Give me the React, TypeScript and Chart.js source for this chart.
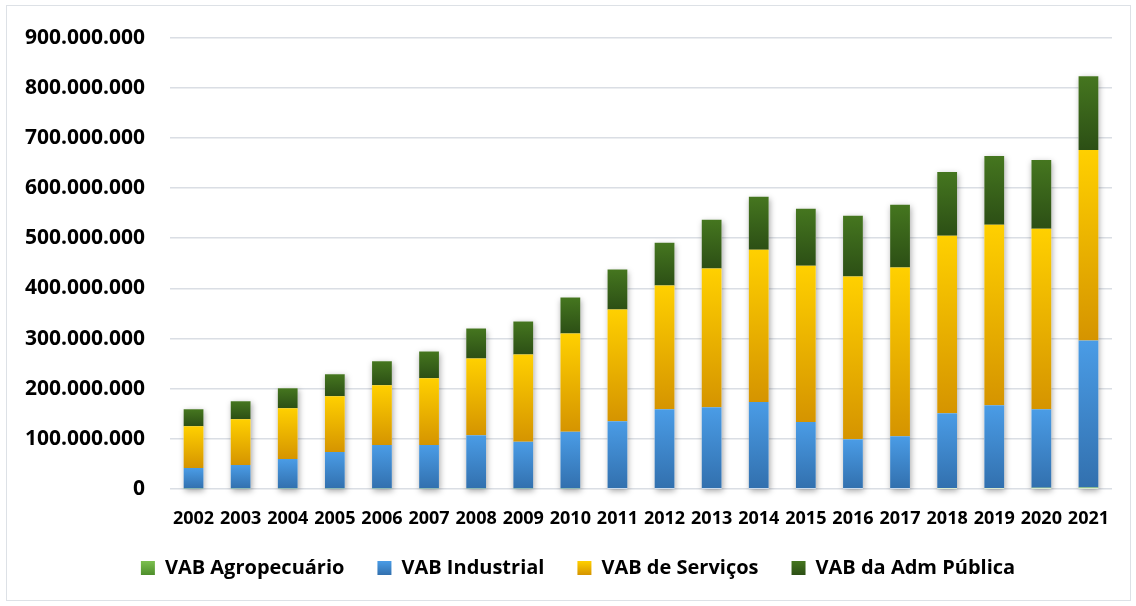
import React, { useEffect, useRef } from 'react';
import { Chart, registerables } from 'chart.js';

Chart.register(...registerables);

const years = ['2002', '2003', '2004', '2005', '2006', '2007', '2008', '2009', '2010', '2011', '2012', '2013', '2014', '2015', '2016', '2017', '2018', '2019', '2020', '2021'];

const vabAgropecuario = [900000, 1000000, 1100000, 1000000, 1000000, 1100000, 1200000, 1100000, 1200000, 1300000, 1300000, 1400000, 1500000, 1400000, 1500000, 1600000, 1800000, 1900000, 2600000, 2800000];
const vabIndustrial = [40800000, 46700000, 58500000, 72600000, 86500000, 86400000, 106200000, 92900000, 112800000, 133900000, 157700000, 161600000, 172100000, 132400000, 97900000, 103800000, 149200000, 165100000, 156400000, 293400000];
const vabServicos = [83300000, 91300000, 101400000, 111400000, 119300000, 133200000, 153000000, 174400000, 196000000, 222700000, 246600000, 276400000, 303400000, 311500000, 324100000, 336000000, 354000000, 359800000, 359900000, 379800000];
const vabAdmPublica = [34000000, 36000000, 40000000, 43600000, 47700000, 53300000, 59600000, 65600000, 71700000, 79500000, 85400000, 97400000, 105500000, 113300000, 121200000, 125200000, 127200000, 137200000, 137100000, 147000000];

const seriesNames = ['VAB Agropecuário', 'VAB Industrial', 'VAB de Serviços', 'VAB da Adm Pública'];
const seriesValues = [vabAgropecuario, vabIndustrial, vabServicos, vabAdmPublica];

const yMin = 0;
const yMax = 900000000;
const yStep = 100000000;

const palettes = [
  { top: '#7CC04F', bottom: '#4E8E2B', solid: '#5FA836' },
  { top: '#4A9CE6', bottom: '#3270AE', solid: '#3F86CC' },
  { top: '#FFD000', bottom: '#D59400', solid: '#EBB300' },
  { top: '#45761F', bottom: '#2C4F15', solid: '#386221' },
];

const FONT = '"Open Sans", "Liberation Sans", Arial, sans-serif';

const fmt = (v: number) => String(Math.round(v)).replace(/\B(?=(\d{3})+(?!\d))/g, '.');

const LEGEND_PAD = 33;
const BOX = 14;
const LEGEND_FONT = 20;

export default function App() {
  const canvasRef = useRef<HTMLCanvasElement | null>(null);

  useEffect(() => {
    const canvas = canvasRef.current;
    if (!canvas) return;

    const shadowPlugin = {
      id: 'stackShadow',
      beforeDatasetsDraw(chart: any) {
        const ctx = chart.ctx;
        const top = chart.getDatasetMeta(seriesValues.length - 1);
        const y = chart.scales.y;
        const base = y.getPixelForValue(0);
        ctx.save();
        ctx.shadowColor = 'rgba(0,0,0,0.35)';
        ctx.shadowBlur = 6;
        ctx.shadowOffsetX = 1;
        ctx.shadowOffsetY = 2;
        ctx.fillStyle = '#ffffff';
        top.data.forEach((el: any) => {
          const w = el.width;
          ctx.fillRect(el.x - w / 2, el.y, w, base - el.y);
        });
        ctx.restore();
      },
    };

    const chart = new Chart(canvas, {
      type: 'bar',
      data: {
        labels: years,
        datasets: seriesValues.map((vals, di) => ({
          label: seriesNames[di],
          data: vals,
          borderWidth: 0,
          barPercentage: 0.42,
          categoryPercentage: 1,
          yAxisID: 'y',
          backgroundColor: (c: any) => {
            const pal = palettes[di];
            const ch = c.chart;
            const ys = ch.scales && ch.scales.y;
            if (c.type !== 'data' || !ys || !ch.chartArea) return pal.solid;
            const i = c.dataIndex;
            let start = 0;
            for (let d = 0; d < di; d++) start += seriesValues[d][i];
            const end = start + seriesValues[di][i];
            const p0 = ys.getPixelForValue(end);
            const p1 = ys.getPixelForValue(start);
            if (!isFinite(p0) || !isFinite(p1) || Math.abs(p1 - p0) < 0.5) return pal.solid;
            const g = ch.ctx.createLinearGradient(0, p0, 0, p1);
            g.addColorStop(0, pal.top);
            g.addColorStop(1, pal.bottom);
            return g;
          },
        })),
      },
      options: {
        responsive: false,
        animation: false,
        events: [],
        layout: { padding: { left: 20, right: 0, top: 35, bottom: 18 } },
        plugins: {
          tooltip: { enabled: false },
          title: { display: false },
          legend: {
            position: 'bottom',
            labels: {
              boxWidth: BOX,
              boxHeight: BOX,
              padding: LEGEND_PAD,
              color: '#000',
              font: { family: FONT, size: LEGEND_FONT, weight: 'bold' },
              generateLabels: (ch: any) => {
                const items = Chart.defaults.plugins.legend.labels.generateLabels(ch);
                const lg = ch.legend;
                items.forEach((it: any, k: number) => {
                  const pal = palettes[k];
                  if (lg && typeof lg.top === 'number' && isFinite(lg.top)) {
                    const y0 = lg.top + LEGEND_PAD + Math.max((LEGEND_FONT - BOX) / 2, 0);
                    const g = ch.ctx.createLinearGradient(0, y0, 0, y0 + BOX);
                    g.addColorStop(0, pal.top);
                    g.addColorStop(1, pal.bottom);
                    it.fillStyle = g;
                  } else {
                    it.fillStyle = pal.solid;
                  }
                  it.lineWidth = 0;
                  it.strokeStyle = 'rgba(0,0,0,0)';
                });
                return items;
              },
            },
          },
        },
        scales: {
          x: {
            stacked: true,
            grid: { display: false },
            border: { display: false },
            ticks: {
              color: '#000',
              font: { family: FONT, size: 18, weight: 'bold' },
              padding: 11,
              maxRotation: 0,
              autoSkip: false,
            },
            afterFit: (s: any) => {
              s.height = 36;
            },
          },
          y: {
            stacked: true,
            position: 'left',
            min: yMin,
            max: yMax,
            grid: { color: '#DADEE4', lineWidth: 1.5, drawTicks: false },
            border: { display: false },
            ticks: {
              stepSize: yStep,
              color: '#000',
              padding: 25,
              font: { family: FONT, size: 21, weight: 'bold' },
              callback: (v: any) => fmt(Number(v)),
            },
            afterFit: (s: any) => {
              s.width = 150;
            },
          },
          yRight: {
            type: 'linear',
            position: 'right',
            display: true,
            grid: { display: false, drawOnChartArea: false, drawTicks: false },
            border: { display: false },
            ticks: { display: false },
            afterFit: (s: any) => {
              s.width = 24;
            },
          },
        },
      },
      plugins: [shadowPlugin],
    } as any);

    return () => {
      chart.destroy();
    };
  }, []);

  return (
    <div style={{ position: 'fixed', left: 0, top: 0, width: 1136, height: 606, background: '#fff' }}>
      <canvas ref={canvasRef} width={1136} height={606} style={{ position: 'absolute', left: 0, top: 0, width: 1136, height: 606 }} />
      <div
        style={{
          position: 'absolute',
          left: 6,
          top: 5,
          width: 1125,
          height: 596,
          border: '1.5px solid #DDE1E6',
          boxSizing: 'border-box',
          pointerEvents: 'none',
        }}
      />
    </div>
  );
}
